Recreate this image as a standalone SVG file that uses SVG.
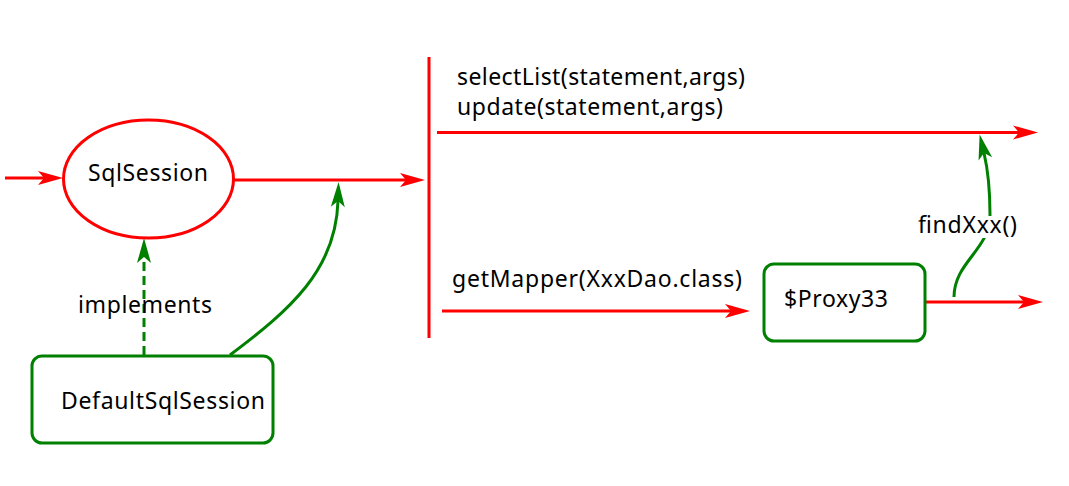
<svg xmlns="http://www.w3.org/2000/svg" width="1069" height="486" viewBox="0 0 1069 486">
<style>
  text { font-family: "Noto Sans", "Open Sans", sans-serif; font-size: 23px; fill: #000; }
  .red { stroke: #ff0000; stroke-width: 3; fill: none; }
  .grn { stroke: #008000; stroke-width: 3; fill: none; }
</style>
<defs>
  <marker id="ar" viewBox="-7 -8 27 16" markerWidth="27" markerHeight="16" refX="0" refY="0" orient="auto" markerUnits="userSpaceOnUse">
    <path d="M19,0 L-6,-7 L0,0 L-6,7 Z" fill="#ff0000"/>
  </marker>
  <marker id="ag" viewBox="-7 -8 27 16" markerWidth="27" markerHeight="16" refX="0" refY="0" orient="auto" markerUnits="userSpaceOnUse">
    <path d="M19,0 L-6,-7 L0,0 L-6,7 Z" fill="#008000"/>
  </marker>
</defs>
<rect width="1069" height="486" fill="#fff"/>
<g id="connectors">
  <line class="red" x1="5" y1="178" x2="44" y2="178" marker-end="url(#ar)"/>
  <line class="red" x1="234" y1="180" x2="406" y2="180" marker-end="url(#ar)"/>
  <line class="red" x1="429" y1="57" x2="429" y2="338"/>
  <line class="red" x1="437" y1="132.5" x2="1019" y2="132.5" marker-end="url(#ar)"/>
  <line class="red" x1="442" y1="311" x2="731" y2="311" marker-end="url(#ar)"/>
  <line class="red" x1="925" y1="302" x2="1024" y2="302" marker-end="url(#ar)"/>
  <path class="grn" d="M230,355 C290,310 336,270 338,201" marker-end="url(#ag)"/>
  <path class="grn" d="M144,355 L144,257" stroke-dasharray="9,5" marker-end="url(#ag)"/>
  <path class="grn" d="M954,297 C954,262 990,250 990,215 C990,185 988,170 984,153" marker-end="url(#ag)"/>
</g>
<g id="label-findXxx">
  <rect x="915" y="216" width="105" height="22" fill="#fff"/>
  <text x="918" y="233" textLength="99" lengthAdjust="spacing">findXxx()</text>
</g>
<g id="label-implements">
  <text x="78" y="313" textLength="134" lengthAdjust="spacing">implements</text>
</g>
<g id="label-methods">
  <text x="457" y="85" textLength="288" lengthAdjust="spacing">selectList(statement,args)</text>
  <text x="457" y="115" textLength="266" lengthAdjust="spacing">update(statement,args)</text>
</g>
<g id="label-getMapper">
  <text x="452" y="287" textLength="290" lengthAdjust="spacing">getMapper(XxxDao.class)</text>
</g>
<g id="node-SqlSession">
  <ellipse cx="148.5" cy="179" rx="85" ry="59" fill="#fff" stroke="#ff0000" stroke-width="3"/>
  <text x="88" y="181" textLength="120" lengthAdjust="spacing">SqlSession</text>
</g>
<g id="node-DefaultSqlSession">
  <rect x="32" y="356" width="241" height="87" rx="10" fill="#fff" stroke="#008000" stroke-width="3"/>
  <text x="61" y="409" textLength="204" lengthAdjust="spacing">DefaultSqlSession</text>
</g>
<g id="node-Proxy33">
  <rect x="764" y="264" width="161" height="77" rx="10" fill="#fff" stroke="#008000" stroke-width="3"/>
  <text x="784" y="307" textLength="104" lengthAdjust="spacing">$Proxy33</text>
</g>
</svg>
